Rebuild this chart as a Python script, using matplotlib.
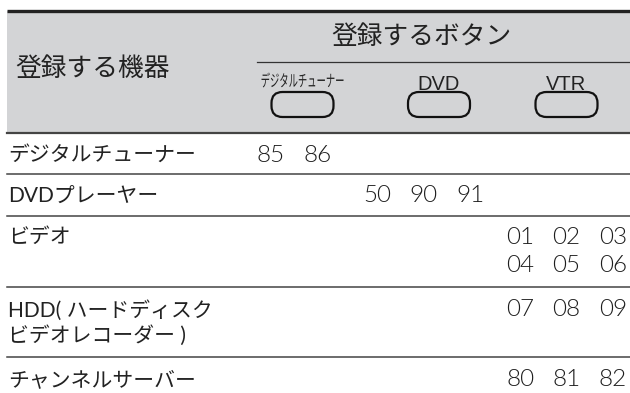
import matplotlib
matplotlib.use("Agg")
import matplotlib.pyplot as plt
from matplotlib.patches import FancyBboxPatch, Rectangle, PathPatch
from matplotlib.textpath import TextPath
from matplotlib.font_manager import FontProperties
from matplotlib.transforms import Affine2D

plt.rcParams['font.family'] = ['Lato', 'Noto Sans CJK JP', 'DejaVu Sans']

HEAD_DEVICE = "登録する機器"
HEAD_BUTTON = "登録するボタン"
BUTTONS = ["デジタルチューナー", "DVD", "VTR"]
DEVICES = ["デジタルチューナー", "DVDプレーヤー", "ビデオ",
           "HDD( ハードディスク\nビデオレコーダー )", "チャンネルサーバー"]
DEVICE_BUTTON = [0, 1, 2, 2, 2]
CODES = [["85", "86"],
         ["50", "90", "91"],
         ["01", "02", "03", "04", "05", "06"],
         ["07", "08", "09"],
         ["80", "81", "82"]]

W, H = 630, 393
GRAY = "#d3d4d6"
INK = "#222222"

fig = plt.figure(figsize=(W / 100, H / 100), dpi=100)
ax = fig.add_axes([0, 0, 1, 1])
ax.set_xlim(0, W)
ax.set_ylim(H, 0)
ax.axis("off")

# header block
ax.add_patch(Rectangle((7, 11), W - 7, 122, facecolor=GRAY, edgecolor="none"))
ax.plot([7, W], [11, 11], color="#222222", lw=2.4, solid_capstyle="butt")
ax.plot([257, W], [62, 62], color="#333333", lw=0.9)
ax.text(15, 68, HEAD_DEVICE, fontsize=18.5, va="center", ha="left", color=INK)
ax.text(421, 37, HEAD_BUTTON, fontsize=18.5, va="center", ha="center", color=INK)

btn_x = [302.5, 439, 566.5]
for i, name in enumerate(BUTTONS):
    cx = btn_x[i]
    ax.add_patch(FancyBboxPatch((cx - 31, 92), 62, 25,
                                boxstyle="round,pad=0,rounding_size=11",
                                facecolor=GRAY, edgecolor="#111111", lw=1.6))
    if i == 0:
        # squashed small label like the printed key cap
        tp = TextPath((0, 0), name, size=10, prop=FontProperties(family="Noto Sans CJK JP"))
        ext = tp.get_extents()
        sx = 82 / ext.width
        sy = 15 / ext.height
        tr = (Affine2D().translate(-ext.x0 - ext.width / 2, -ext.y0 - ext.height / 2)
              .scale(sx, -sy).translate(cx, 80))
        ax.add_patch(PathPatch(tr.transform_path(tp), facecolor=INK, edgecolor="none"))
    else:
        ax.text(cx, 84, name, fontsize=14.5, va="center", ha="center", color=INK,
                family=["Liberation Sans", "DejaVu Sans"])

# row separators
line_y = [133, 174, 216, 287, 357]
for k, y in enumerate(line_y):
    ax.plot([7, W], [y, y], color="#444444", lw=1.6 if k == 0 else 1.1)

label_y = [155, 196, 237, 323, 380]
code_y0 = [155, 196, 237, 310, 380]
col_x = [257, 363, 506]
step = 46.5
row_gap = 28
for r, dev in enumerate(DEVICES):
    ax.text(8, label_y[r], dev, fontsize=15, va="center", ha="left",
            color=INK, linespacing=1.25)
    x0 = col_x[DEVICE_BUTTON[r]]
    for j, code in enumerate(CODES[r]):
        ax.text(x0 + (j % 3) * step, code_y0[r] + (j // 3) * row_gap, code,
                fontsize=17.5, fontweight=300, va="center", ha="left",
                color="#1e1e1e")

fig.savefig("out.png", dpi=100)
